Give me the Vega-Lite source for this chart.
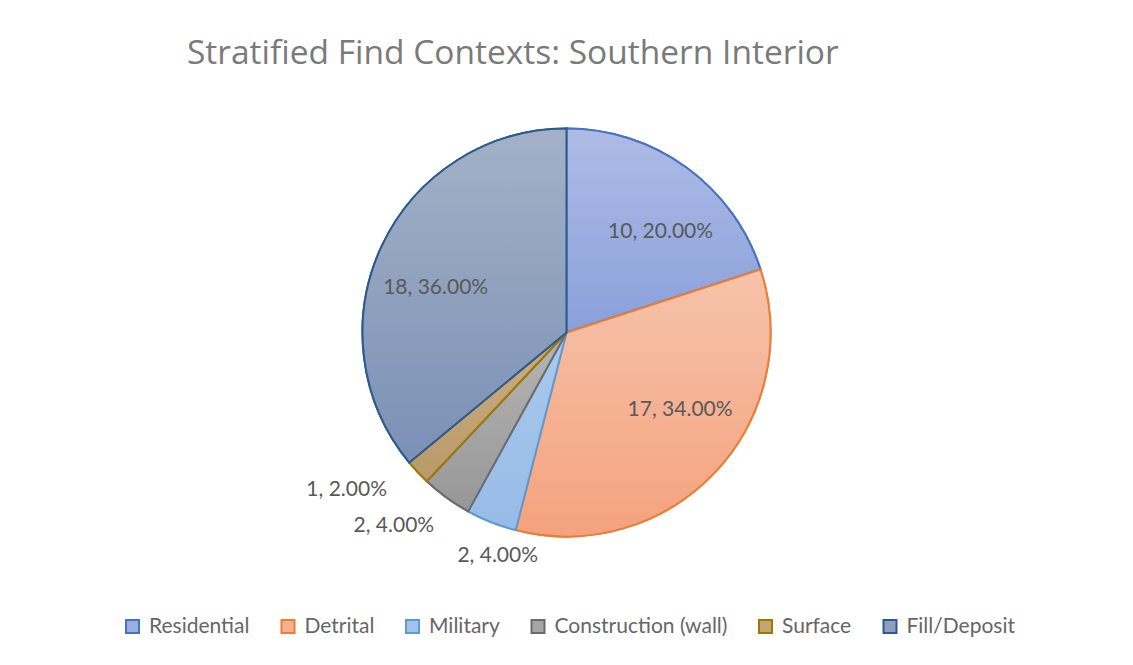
{
  "$schema": "https://vega.github.io/schema/vega-lite/v6.json",
  "width": 1131,
  "height": 663,
  "padding": 1,
  "autosize": {"type": "none"},
  "background": "white",
  "config": {
    "view": {"stroke": "#d9d9d9", "strokeWidth": 1.5},
    "arc": {"outerRadius": 204, "strokeWidth": 2},
    "text": {"font": "Lato", "fontSize": 21, "fill": "#595959", "baseline": "middle", "align": "center"}
  },
  "title": {
    "text": "Stratified Find Contexts: Southern Interior",
    "anchor": "start",
    "frame": "group",
    "dx": 186,
    "offset": -70,
    "font": "Open Sans",
    "fontSize": 33.5,
    "fontWeight": "normal",
    "color": "#7a7a7a"
  },
  "data": {
    "values": [
      {"category": "Residential", "count": 10, "rank": 1},
      {"category": "Detrital", "count": 17, "rank": 2},
      {"category": "Military", "count": 2, "rank": 3},
      {"category": "Construction (wall)", "count": 2, "rank": 4},
      {"category": "Surface", "count": 1, "rank": 5},
      {"category": "Fill/Deposit", "count": 18, "rank": 6}
    ]
  },
  "transform": [
    {"joinaggregate": [{"op": "sum", "field": "count", "as": "total"}]},
    {"stack": "count", "groupby": [], "sort": [{"field": "rank", "order": "ascending"}], "as": ["c0", "c1"]},
    {"calculate": "(datum.c0 + datum.c1) / 2", "as": "mid"},
    {"calculate": "datum.count + ', ' + format(datum.count / datum.total, '.2%')", "as": "label"}
  ],
  "layer": [
    {
      "mark": {"type": "arc"},
      "encoding": {
        "theta": {"field": "c0", "type": "quantitative", "stack": null, "scale": {"domain": [0, 50]}},
        "theta2": {"field": "c1"},
        "fill": {
          "field": "category",
          "type": "nominal",
          "scale": {
            "domain": ["Residential", "Detrital", "Military", "Construction (wall)", "Surface", "Fill/Deposit"],
            "range": ["#9cade0", "#f5b293", "#a0c3eb", "#a6a6a6", "#c2a476", "#8fa0be"]
          },
          "legend": {
            "title": null,
            "orient": "none",
            "legendX": 121,
            "legendY": 615,
            "direction": "horizontal",
            "columns": 6,
            "symbolType": "square",
            "symbolSize": 169,
            "symbolStrokeWidth": 2,
            "labelFont": "Lato",
            "labelFontSize": 21,
            "labelLimit": 0,
            "labelColor": "#666666",
            "labelOffset": 6,
            "columnPadding": 27.5
          }
        },
        "stroke": {
          "field": "category",
          "type": "nominal",
          "scale": {
            "domain": ["Residential", "Detrital", "Military", "Construction (wall)", "Surface", "Fill/Deposit"],
            "range": ["#4472c4", "#ed7d31", "#5b9bd5", "#6b6b6b", "#a07800", "#2a5a8e"]
          },
          "legend": {
            "title": null,
            "orient": "none",
            "legendX": 121,
            "legendY": 615,
            "direction": "horizontal",
            "columns": 6,
            "symbolType": "square",
            "symbolSize": 169,
            "symbolStrokeWidth": 2,
            "labelFont": "Lato",
            "labelFontSize": 21,
            "labelLimit": 0,
            "labelColor": "#666666",
            "labelOffset": 6,
            "columnPadding": 27.5
          }
        }
      }
    },
    {
      "transform": [{"filter": "datum.category === 'Residential'"}],
      "mark": {"type": "arc", "stroke": "#4472c4", "fill": {"gradient": "linear", "x1": 0, "y1": 0, "x2": 0, "y2": 1, "stops": [{"offset": 0, "color": "#aebbe5"}, {"offset": 1, "color": "#8aa0db"}]}},
      "encoding": {"theta": {"field": "c0", "type": "quantitative", "stack": null}, "theta2": {"field": "c1"}}
    },
    {
      "transform": [{"filter": "datum.category === 'Detrital'"}],
      "mark": {"type": "arc", "stroke": "#ed7d31", "fill": {"gradient": "linear", "x1": 0, "y1": 0, "x2": 0, "y2": 1, "stops": [{"offset": 0, "color": "#f6c3aa"}, {"offset": 1, "color": "#f4a27e"}]}},
      "encoding": {"theta": {"field": "c0", "type": "quantitative", "stack": null}, "theta2": {"field": "c1"}}
    },
    {
      "transform": [{"filter": "datum.category === 'Military'"}],
      "mark": {"type": "arc", "stroke": "#5b9bd5", "fill": {"gradient": "linear", "x1": 0, "y1": 0, "x2": 0, "y2": 1, "stops": [{"offset": 0, "color": "#aacaee"}, {"offset": 1, "color": "#96bbe6"}]}},
      "encoding": {"theta": {"field": "c0", "type": "quantitative", "stack": null}, "theta2": {"field": "c1"}}
    },
    {
      "transform": [{"filter": "datum.category === 'Construction (wall)'"}],
      "mark": {"type": "arc", "stroke": "#6b6b6b", "fill": {"gradient": "linear", "x1": 0, "y1": 0, "x2": 0, "y2": 1, "stops": [{"offset": 0, "color": "#b5b5b5"}, {"offset": 1, "color": "#979797"}]}},
      "encoding": {"theta": {"field": "c0", "type": "quantitative", "stack": null}, "theta2": {"field": "c1"}}
    },
    {
      "transform": [{"filter": "datum.category === 'Surface'"}],
      "mark": {"type": "arc", "stroke": "#a07800", "fill": {"gradient": "linear", "x1": 0, "y1": 0, "x2": 0, "y2": 1, "stops": [{"offset": 0, "color": "#cbae84"}, {"offset": 1, "color": "#b99a68"}]}},
      "encoding": {"theta": {"field": "c0", "type": "quantitative", "stack": null}, "theta2": {"field": "c1"}}
    },
    {
      "transform": [{"filter": "datum.category === 'Fill/Deposit'"}],
      "mark": {"type": "arc", "stroke": "#2a5a8e", "fill": {"gradient": "linear", "x1": 0, "y1": 0, "x2": 0, "y2": 1, "stops": [{"offset": 0, "color": "#a4b1c7"}, {"offset": 1, "color": "#7a90b5"}]}},
      "encoding": {"theta": {"field": "c0", "type": "quantitative", "stack": null}, "theta2": {"field": "c1"}}
    },
    {
      "transform": [{"filter": "datum.category === 'Residential'"}],
      "mark": {"type": "text", "radius": 138, "dx": 13, "dy": 11},
      "encoding": {"theta": {"field": "mid", "type": "quantitative", "stack": null}, "text": {"field": "label"}}
    },
    {
      "transform": [{"filter": "datum.category === 'Detrital'"}],
      "mark": {"type": "text", "radius": 138, "dx": 13, "dy": -17},
      "encoding": {"theta": {"field": "mid", "type": "quantitative", "stack": null}, "text": {"field": "label"}}
    },
    {
      "transform": [{"filter": "datum.category === 'Fill/Deposit'"}],
      "mark": {"type": "text", "radius": 138, "dx": -6, "dy": 14},
      "encoding": {"theta": {"field": "mid", "type": "quantitative", "stack": null}, "text": {"field": "label"}}
    },
    {
      "transform": [{"filter": "datum.category === 'Military'"}],
      "mark": {"type": "text", "radius": 233, "dx": 17, "dy": 7},
      "encoding": {"theta": {"field": "mid", "type": "quantitative", "stack": null}, "text": {"field": "label"}}
    },
    {
      "transform": [{"filter": "datum.category === 'Construction (wall)'"}],
      "mark": {"type": "text", "radius": 258, "dx": -21, "dy": -15},
      "encoding": {"theta": {"field": "mid", "type": "quantitative", "stack": null}, "text": {"field": "label"}}
    },
    {
      "transform": [{"filter": "datum.category === 'Surface'"}],
      "mark": {"type": "text", "radius": 270, "dx": -23, "dy": -27},
      "encoding": {"theta": {"field": "mid", "type": "quantitative", "stack": null}, "text": {"field": "label"}}
    }
  ]
}
